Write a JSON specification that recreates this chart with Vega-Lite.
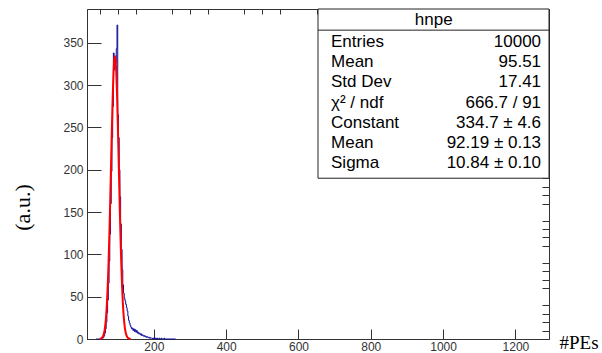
{
  "$schema": "https://vega.github.io/schema/vega-lite/v6.json",
  "width": 462,
  "height": 330,
  "autosize": {"type": "none"},
  "padding": {"left": 87, "top": 9, "right": 53, "bottom": 14},
  "background": "white",
  "config": {
    "view": {"stroke": "#333", "strokeWidth": 1},
    "axis": {"labelFont": "Liberation Sans", "labelFontSize": 12, "labelColor": "#333", "tickColor": "#333", "domainColor": "#333", "grid": false, "titleFontWeight": "normal"},
    "text": {"font": "Liberation Sans"}
  },
  "datasets": {
    "hist": [
      {"x": 40, "n": 0}, {"x": 42, "n": 0}, {"x": 44, "n": 0}, {"x": 46, "n": 0}, {"x": 48, "n": 0},
      {"x": 50, "n": 0}, {"x": 52, "n": 0}, {"x": 54, "n": 0}, {"x": 56, "n": 1}, {"x": 58, "n": 1},
      {"x": 60, "n": 2}, {"x": 62, "n": 4}, {"x": 64, "n": 7}, {"x": 66, "n": 12}, {"x": 68, "n": 20},
      {"x": 70, "n": 31}, {"x": 72, "n": 46}, {"x": 74, "n": 66}, {"x": 76, "n": 92}, {"x": 78, "n": 124},
      {"x": 80, "n": 160}, {"x": 82, "n": 198}, {"x": 84, "n": 238}, {"x": 86, "n": 275}, {"x": 88, "n": 338},
      {"x": 90, "n": 318}, {"x": 92, "n": 332}, {"x": 94, "n": 326}, {"x": 96, "n": 343}, {"x": 98, "n": 371},
      {"x": 100, "n": 265}, {"x": 102, "n": 238}, {"x": 104, "n": 200}, {"x": 106, "n": 168}, {"x": 108, "n": 136},
      {"x": 110, "n": 106}, {"x": 112, "n": 82}, {"x": 114, "n": 64}, {"x": 116, "n": 54}, {"x": 118, "n": 48},
      {"x": 120, "n": 45}, {"x": 122, "n": 41}, {"x": 124, "n": 37}, {"x": 126, "n": 33}, {"x": 128, "n": 27},
      {"x": 130, "n": 22}, {"x": 132, "n": 19}, {"x": 134, "n": 16}, {"x": 136, "n": 14}, {"x": 138, "n": 12},
      {"x": 140, "n": 13}, {"x": 142, "n": 10}, {"x": 144, "n": 12}, {"x": 146, "n": 9}, {"x": 148, "n": 11},
      {"x": 150, "n": 8}, {"x": 152, "n": 10}, {"x": 154, "n": 7}, {"x": 156, "n": 8}, {"x": 158, "n": 6},
      {"x": 160, "n": 7}, {"x": 162, "n": 5}, {"x": 164, "n": 6}, {"x": 166, "n": 4}, {"x": 168, "n": 5},
      {"x": 170, "n": 4}, {"x": 172, "n": 3}, {"x": 174, "n": 4}, {"x": 176, "n": 3}, {"x": 178, "n": 2},
      {"x": 180, "n": 3}, {"x": 182, "n": 2}, {"x": 184, "n": 2}, {"x": 186, "n": 1}, {"x": 188, "n": 2},
      {"x": 190, "n": 1}, {"x": 192, "n": 1}, {"x": 194, "n": 1}, {"x": 196, "n": 0}, {"x": 198, "n": 1},
      {"x": 200, "n": 1}, {"x": 202, "n": 0}, {"x": 204, "n": 1}, {"x": 206, "n": 0}, {"x": 208, "n": 1},
      {"x": 210, "n": 0}, {"x": 212, "n": 0}, {"x": 214, "n": 1}, {"x": 216, "n": 0}, {"x": 218, "n": 0},
      {"x": 220, "n": 1}, {"x": 222, "n": 0}, {"x": 224, "n": 0}, {"x": 226, "n": 0}, {"x": 228, "n": 1},
      {"x": 230, "n": 0}, {"x": 232, "n": 0}, {"x": 260, "n": 0}
    ],
    "fit": [
      {"x": 50, "f": 0.17}, {"x": 52, "f": 0.35}, {"x": 54, "f": 0.68}, {"x": 56, "f": 1.27}, {"x": 58, "f": 2.32},
      {"x": 60, "f": 4.07}, {"x": 62, "f": 6.93}, {"x": 64, "f": 11.38}, {"x": 66, "f": 18.07}, {"x": 68, "f": 27.75},
      {"x": 70, "f": 41.2}, {"x": 72, "f": 59.1}, {"x": 74, "f": 81.9}, {"x": 76, "f": 109.7}, {"x": 78, "f": 142.1},
      {"x": 80, "f": 177.9}, {"x": 82, "f": 215.2}, {"x": 84, "f": 251.6}, {"x": 86, "f": 284.4}, {"x": 88, "f": 310.6},
      {"x": 90, "f": 327.9}, {"x": 92, "f": 334.6}, {"x": 94, "f": 330.1}, {"x": 96, "f": 314.7}, {"x": 98, "f": 289.9},
      {"x": 100, "f": 258.2}, {"x": 102, "f": 222.2}, {"x": 104, "f": 184.9}, {"x": 106, "f": 148.7}, {"x": 108, "f": 115.5},
      {"x": 110, "f": 86.8}, {"x": 112, "f": 63.0}, {"x": 114, "f": 44.2}, {"x": 116, "f": 30.0}, {"x": 118, "f": 19.6},
      {"x": 120, "f": 12.45}, {"x": 122, "f": 7.63}, {"x": 124, "f": 4.52}, {"x": 126, "f": 2.58}, {"x": 128, "f": 1.43},
      {"x": 130, "f": 0.76}, {"x": 132, "f": 0.39}, {"x": 134, "f": 0.2}, {"x": 136, "f": 0.1}
    ],
    "stats": [
      {"row": 1, "name": "Entries", "val": "10000"},
      {"row": 2, "name": "Mean", "val": "95.51"},
      {"row": 3, "name": "Std Dev", "val": "17.41"},
      {"row": 4, "name": "χ² / ndf", "val": "666.7 / 91"},
      {"row": 5, "name": "Constant", "val": "334.7 ± 4.6"},
      {"row": 6, "name": "Mean", "val": "92.19 ± 0.13"},
      {"row": 7, "name": "Sigma", "val": "10.84 ± 0.10"}
    ],
    "box": [{"title": "hnpe"}]
  },
  "resolve": {"scale": {"y": "independent"}, "axis": {"x": "independent", "y": "independent"}},
  "layer": [
    {
      "data": {"name": "hist"},
      "mark": {"type": "line", "interpolate": "step-after", "color": "#0c0c9c", "strokeWidth": 1},
      "encoding": {
        "x": {"field": "x", "type": "quantitative", "scale": {"domain": [15, 1293], "nice": false, "zero": false},
          "axis": {"values": [200, 400, 600, 800, 1000, 1200], "format": "d", "tickSize": -10, "labelPadding": 12, "labelFlush": false,
            "title": "#PEs", "titleFont": "Liberation Serif", "titleFontSize": 19, "titleColor": "black",
            "titleX": 472, "titleY": 3, "titleAlign": "left", "titleBaseline": "middle"}},
        "y": {"field": "n", "type": "quantitative", "scale": {"domain": [0, 390], "nice": false},
          "axis": {"values": [0, 50, 100, 150, 200, 250, 300, 350], "format": "d", "tickSize": -14, "labelPadding": 18, "labelFlush": false,
            "title": "(a.u.)", "titleFont": "Liberation Serif", "titleFontSize": 22, "titleColor": "black",
            "titleX": -65, "titleY": 198, "titleAlign": "center", "titleBaseline": "middle", "titleAngle": -90}}
      }
    },
    {
      "data": {"name": "fit"},
      "mark": {"type": "line", "interpolate": "monotone", "color": "#ff0000", "strokeWidth": 2},
      "encoding": {
        "x": {"field": "x", "type": "quantitative", "scale": {"domain": [15, 1293], "nice": false, "zero": false},
          "axis": {"values": [50, 100, 150, 250, 300, 350, 450, 500, 550, 650, 700, 750, 850, 900, 950, 1050, 1100, 1150, 1250],
            "tickSize": -5, "labels": false, "domain": false, "title": null}},
        "y": {"field": "f", "type": "quantitative", "scale": {"domain": [0, 390], "nice": false},
          "axis": {"values": [10, 20, 30, 40, 60, 70, 80, 90, 110, 120, 130, 140, 160, 170, 180, 190, 210, 220, 230, 240, 260, 270, 280, 290, 310, 320, 330, 340, 360, 370, 380],
            "tickSize": -7, "labels": false, "domain": false, "title": null}}
      }
    },
    {
      "data": {"name": "box"},
      "mark": {"type": "rect", "fill": "white", "stroke": "#222", "strokeWidth": 1},
      "encoding": {
        "x": {"datum": 654, "type": "quantitative", "scale": {"domain": [15, 1293], "nice": false, "zero": false}, "axis": null},
        "x2": {"datum": 1293},
        "y": {"datum": 390, "type": "quantitative", "scale": {"domain": [0, 390], "nice": false}, "axis": null},
        "y2": {"datum": 190}
      }
    },
    {
      "data": {"name": "box"},
      "mark": {"type": "rule", "stroke": "#222", "strokeWidth": 1},
      "encoding": {
        "x": {"datum": 654, "type": "quantitative", "scale": {"domain": [15, 1293], "nice": false, "zero": false}, "axis": null},
        "x2": {"datum": 1293},
        "y": {"datum": 365, "type": "quantitative", "scale": {"domain": [0, 390], "nice": false}, "axis": null}
      }
    },
    {
      "data": {"name": "box"},
      "mark": {"type": "text", "fontSize": 17, "color": "black", "align": "center", "baseline": "middle"},
      "encoding": {
        "x": {"datum": 974, "type": "quantitative", "scale": {"domain": [15, 1293], "nice": false, "zero": false}, "axis": null},
        "y": {"datum": 377, "type": "quantitative", "scale": {"domain": [0, 390], "nice": false}, "axis": null},
        "text": {"field": "title"}
      }
    },
    {
      "data": {"name": "stats"},
      "mark": {"type": "text", "fontSize": 17, "color": "black", "align": "left", "baseline": "middle"},
      "encoding": {
        "x": {"datum": 690, "type": "quantitative", "scale": {"domain": [15, 1293], "nice": false, "zero": false}, "axis": null},
        "y": {"field": "row", "type": "ordinal", "scale": {"type": "point", "range": [33, 154], "padding": 0}, "axis": null},
        "text": {"field": "name"}
      }
    },
    {
      "data": {"name": "stats"},
      "mark": {"type": "text", "fontSize": 17, "color": "black", "align": "right", "baseline": "middle"},
      "encoding": {
        "x": {"datum": 1271, "type": "quantitative", "scale": {"domain": [15, 1293], "nice": false, "zero": false}, "axis": null},
        "y": {"field": "row", "type": "ordinal", "scale": {"type": "point", "range": [33, 154], "padding": 0}, "axis": null},
        "text": {"field": "val"}
      }
    }
  ]
}
